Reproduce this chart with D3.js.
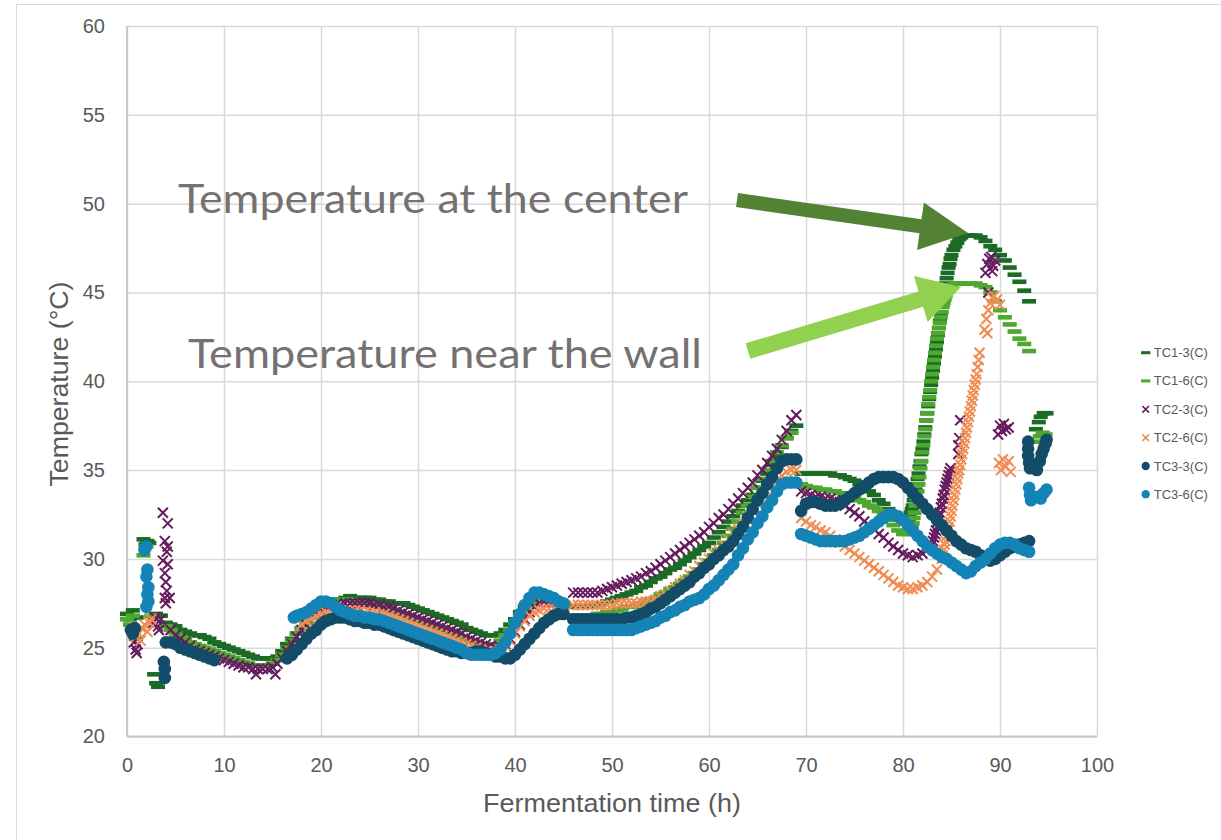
<!DOCTYPE html>
<html><head><meta charset="utf-8">
<script src="https://cdn.jsdelivr.net/npm/d3@7"></script>
<style>body{margin:0;background:#fff}svg{display:block}</style>
</head><body>
<svg id="c" width="1221" height="840"></svg>
<script>
const xTicks=[0,10,20,30,40,50,60,70,80,90,100];
const yTicks=[20,25,30,35,40,45,50,55,60];
const seriesNames=["TC1-3(C)","TC1-6(C)","TC2-3(C)","TC2-6(C)","TC3-3(C)","TC3-6(C)"];
const seriesColors=["#1b6b26","#4ea72e","#651b5e","#ef8d55","#134c68","#1483b5"];
const seriesMarkers=["dash","dash","cross","cross","circle","circle"];
const xTitle="Fermentation time (h)";
const yTitle="Temperature (°C)";
const noteCenter="Temperature at the center";
const noteWall="Temperature near the wall";

const tc13=[[0,26.9],[0.3,26.6],[0.6,27.1],[1.0,26.7],[1.7,31.1],[1.9,30.8],[2.1,31.0],[2.3,30.9],[2.8,23.5],[3.0,23.0],[3.2,22.8],[3.0,26.9],[3.5,26.8],
[4.0,26.4],[4.5,26.3],[5.0,26.2],[5.5,26.0],[6.0,25.9],[6.5,25.8],[7.0,25.7],[7.5,25.7],[8.0,25.6],[8.5,25.5],[9.0,25.3],[9.5,25.2],[10.0,25.1],[10.5,25.0],[11.0,24.9],[11.5,24.8],[12.0,24.7],[12.5,24.6],[13.0,24.5],[13.5,24.4],[14.0,24.4],[14.5,24.4],[15.0,24.4],[15.5,24.5],[16.0,24.8],[16.5,25.2],[17.0,25.5],[17.5,25.8],[18.0,26.1],[18.5,26.4],[19.0,26.8],[19.5,27.1],[20.0,27.4],[20.5,27.6],[21.0,27.7],[21.5,27.7],[22.0,27.7],[22.5,27.8],[23.0,27.9],[23.5,27.8],[24.0,27.8],[24.5,27.8],[25.0,27.8],[25.5,27.7],[26.0,27.7],[26.5,27.6],[27.0,27.6],[27.5,27.5],[28.0,27.5],[28.5,27.5],[29.0,27.4],[29.5,27.3],[30.0,27.2],[30.5,27.1],[31.0,27.0],[31.5,26.9],[32.0,26.8],[32.5,26.7],[33.0,26.6],[33.5,26.5],[34.0,26.4],[34.5,26.3],[35.0,26.1],[35.5,26.0],[36.0,25.9],[36.5,25.8],[37.0,25.7],[37.5,25.7],[38.0,25.7],[38.5,25.8],[39.0,26.0],[39.5,26.3],[40.0,26.6],[40.5,27.0],[41.0,27.3],[41.5,27.6],[42.0,27.9],[42.5,28.1],[43.0,28.1],[43.5,28.0],[44.0,27.8],[44.5,27.6],[45.0,27.5],
[46.0,27.3],[46.5,27.3],[47.0,27.3],[47.5,27.3],[48.0,27.4],[48.5,27.4],[49.0,27.5],[49.5,27.6],[50.0,27.7],[50.5,27.8],[51.0,27.9],[51.5,28.0],[52.0,28.1],[52.5,28.2],[53.0,28.4],[53.5,28.5],[54.0,28.7],[54.5,28.9],[55.0,29.0],[55.5,29.2],[56.0,29.4],[56.5,29.5],[57.0,29.7],[57.5,29.9],[58.0,30.1],[58.5,30.3],[59.0,30.5],[59.5,30.7],[60.0,30.9],[60.5,31.2],[61.0,31.5],[61.5,31.8],[62.0,32.1],[62.5,32.4],[63.0,32.7],[63.5,33.0],[64.0,33.3],[64.5,33.6],[65.0,34.0],[65.5,34.4],[66.0,34.8],[66.5,35.3],[67.0,35.8],[67.5,36.3],[68.0,36.8],[68.5,37.2],[69.0,37.5],
[69.5,34.8],[70.0,34.8],[70.5,34.8],[71.0,34.8],[71.5,34.8],[72.0,34.8],[72.5,34.8],[73.0,34.7],[73.5,34.7],[74.0,34.6],[74.5,34.5],[75.0,34.4],[75.5,34.2],[76.0,34.0],[76.5,33.8],[77.0,33.6],[77.5,33.3],[78.0,33.1],[78.5,32.8],[79.0,32.5],[79.5,32.2],[80.0,32.0],
[80.5,32.1],[80.6,32.2],[80.7,32.4],[80.8,32.6],[80.9,32.8],[81.0,33.0],[81.1,33.3],[81.2,33.6],[81.3,33.9],[81.4,34.2],[81.5,34.5],[81.6,34.8],[81.7,35.2],[81.8,35.5],[81.9,35.9],[82.0,36.2],[82.1,36.6],[82.2,37.0],[82.3,37.4],[82.4,37.8],[82.5,38.2],[82.6,38.6],[82.7,39.0],[82.8,39.4],[82.9,39.8],[83.0,40.2],[83.1,40.6],[83.2,41.0],[83.3,41.4],[83.4,41.8],[83.5,42.2],[83.6,42.6],[83.7,43.0],[83.8,43.4],[83.9,43.8],[84.0,44.2],[84.1,44.5],[84.2,44.9],[84.3,45.2],[84.4,45.5],[84.5,45.8],[84.6,46.1],[84.7,46.4],[84.8,46.6],[84.9,46.9],[85.0,47.1],[85.2,47.4],[85.4,47.6],[85.6,47.8],[85.8,48.0],[86.0,48.1],
[86.5,48.2],[87.0,48.2],[87.5,48.2],[88.0,48.1],[88.5,47.9],[89.0,47.6],[89.5,47.4],[90.0,47.1],[90.5,46.8],[91.0,46.4],[91.5,46.0],[92.0,45.6],[92.5,45.1],[93.0,44.5],
[93.7,37.3],[94.0,37.7],[94.2,38.0],[94.5,38.2],[94.8,38.2]];

const tc16=[[0,26.6],[0.3,26.3],[0.6,26.8],[0.9,25.5],[1.7,30.2],[2.0,30.7],[2.5,26.8],
[4.0,26.2],[4.5,26.0],[5.0,25.8],[5.5,25.6],[6.0,25.5],[6.5,25.3],[7.0,25.2],[7.5,25.1],[8.0,25.0],[8.5,24.9],[9.0,24.8],[9.5,24.7],[10.0,24.6],[10.5,24.5],[11.0,24.4],[11.5,24.3],[12.0,24.2],[12.5,24.1],[13.0,24.0],[13.5,24.0],[14.0,24.0],[14.5,24.0],[15.0,24.1],[15.5,24.3],[16.0,24.6],[16.5,25.0],[17.0,25.4],[17.5,25.8],[18.0,26.1],[18.5,26.4],[19.0,26.7],[19.5,27.0],[20.0,27.3],[20.5,27.5],[21.0,27.6],[21.5,27.7],[22.0,27.7],[22.5,27.7],[23.0,27.7],[23.5,27.6],[24.0,27.6],[24.5,27.5],[25.0,27.5],[25.5,27.4],[26.0,27.3],[26.5,27.3],[27.0,27.2],[27.5,27.1],[28.0,27.0],[28.5,26.9],[29.0,26.8],[29.5,26.7],[30.0,26.6],[30.5,26.5],[31.0,26.4],[31.5,26.3],[32.0,26.2],[32.5,26.1],[33.0,26.0],[33.5,25.9],[34.0,25.8],[34.5,25.6],[35.0,25.5],[35.5,25.4],[36.0,25.3],[36.5,25.2],[37.0,25.1],[37.5,25.1],[38.0,25.2],[38.5,25.4],[39.0,25.7],[39.5,26.0],[40.0,26.4],[40.5,26.8],[41.0,27.1],[41.5,27.4],[42.0,27.6],[42.5,27.8],[43.0,27.8],[43.5,27.8],[44.0,27.6],[44.5,27.5],[45.0,27.4],
[46.0,26.8],[46.5,26.8],[47.0,26.8],[47.5,26.8],[48.0,26.8],[48.5,26.9],[49.0,26.9],[49.5,27.0],[50.0,27.0],[50.5,27.1],[51.0,27.2],[51.5,27.3],[52.0,27.3],[52.5,27.4],[53.0,27.5],[53.5,27.6],[54.0,27.7],[54.5,27.8],[55.0,28.0],[55.5,28.1],[56.0,28.3],[56.5,28.4],[57.0,28.6],[57.5,28.8],[58.0,29.0],[58.5,29.2],[59.0,29.4],[59.5,29.7],[60.0,29.9],[60.5,30.2],[61.0,30.5],[61.5,30.9],[62.0,31.3],[62.5,31.7],[63.0,32.1],[63.5,32.6],[64.0,33.0],[64.5,33.5],[65.0,34.0],[65.5,34.5],[66.0,35.0],[66.5,35.5],[67.0,36.0],[67.5,36.4],[68.0,36.8],[68.5,37.1],
[69.5,34.2],[70.0,34.1],[70.5,34.0],[71.0,34.0],[71.5,33.9],[72.0,33.9],[72.5,33.8],[73.0,33.8],[73.5,33.7],[74.0,33.6],[74.5,33.5],[75.0,33.4],[75.5,33.3],[76.0,33.2],[76.5,33.0],[77.0,32.9],[77.5,32.7],[78.0,32.5],[78.5,32.2],[79.0,31.9],[79.5,31.6],[80.0,31.4],[80.5,31.4],
[80.8,31.6],[80.9,31.8],[81.0,32.0],[81.1,32.3],[81.2,32.6],[81.3,33.0],[81.4,33.4],[81.5,33.8],[81.6,34.2],[81.7,34.6],[81.8,35.1],[81.9,35.5],[82.0,36.0],[82.1,36.4],[82.2,36.9],[82.3,37.3],[82.4,37.8],[82.5,38.2],[82.6,38.7],[82.7,39.1],[82.8,39.5],[82.9,40.0],[83.0,40.4],[83.1,40.8],[83.2,41.2],[83.3,41.6],[83.4,42.0],[83.5,42.4],[83.6,42.7],[83.7,43.0],[83.8,43.3],[83.9,43.6],[84.0,43.9],[84.1,44.2],[84.2,44.4],[84.3,44.6],[84.4,44.8],[84.6,45.1],[84.8,45.3],[85.0,45.4],
[85.3,45.5],[85.6,45.5],[86.0,45.5],[86.5,45.5],[87.0,45.5],[87.5,45.5],[88.0,45.4],[88.5,45.3],[89.0,45.0],[89.5,44.5],[90.0,44.0],[90.5,43.6],[91.0,43.2],[91.5,42.8],[92.0,42.4],[92.5,42.1],[93.0,41.7],
[93.8,36.6],[94.1,36.9],[94.4,37.1],[94.7,37.0]];

const tc23=[[0.7,25.3],[0.9,24.9],[1.1,25.2],[1.0,24.7],[2.7,26.4],[2.9,26.7],[3.2,26.2],[3.5,26.6],[3.3,26.0],
[3.7,32.6],[4.2,32.0],[3.9,31.0],[4.2,30.7],[4.1,30.4],[3.7,29.9],[4.2,29.7],[3.9,29.2],[4.0,28.7],[4.1,28.2],[3.9,27.8],[4.4,27.8],[4.0,27.5],
[4.5,26.0],[5.0,25.7],[5.5,25.5],[6.0,25.3],[6.5,25.1],[7.0,24.9],[7.5,24.8],[8.0,24.7],[8.5,24.6],[9.0,24.5],[9.5,24.4],[10.0,24.3],[10.5,24.2],[11.0,24.1],[11.5,24.0],[12.0,23.9],[12.5,23.9],[13.0,23.8],[13.3,23.5],[13.5,23.8],[14.0,23.8],[14.5,23.8],[15.0,23.9],[15.3,23.5],[15.5,24.1],[16.0,24.4],[16.5,24.8],[17.0,25.2],[17.5,25.6],[18.0,26.0],[18.5,26.3],[19.0,26.6],[19.5,26.9],[20.0,27.1],[20.5,27.3],[21.0,27.4],[21.5,27.4],[22.0,27.4],[22.5,27.5],[23.0,27.5],[23.5,27.5],[24.0,27.5],[24.5,27.5],[25.0,27.5],[25.5,27.4],[26.0,27.4],[26.5,27.3],[27.0,27.3],[27.5,27.2],[28.0,27.1],[28.5,27.0],[29.0,26.9],[29.5,26.8],[30.0,26.7],[30.5,26.6],[31.0,26.5],[31.5,26.4],[32.0,26.3],[32.5,26.2],[33.0,26.1],[33.5,26.0],[34.0,25.9],[34.5,25.8],[35.0,25.6],[35.5,25.5],[36.0,25.4],[36.5,25.3],[37.0,25.2],[37.5,25.1],[38.0,25.0],[38.5,25.0],[39.0,25.2],[39.5,25.5],[40.0,25.9],[40.5,26.3],[41.0,26.6],[41.5,27.0],[42.0,27.3],[42.5,27.5],[43.0,27.6],[43.5,27.6],[44.0,27.5],[44.5,27.4],[45.0,27.3],
[46.0,28.1],[46.5,28.1],[47.0,28.1],[47.5,28.1],[48.0,28.1],[48.5,28.1],[49.0,28.2],[49.5,28.3],[50.0,28.4],[50.5,28.5],[51.0,28.6],[51.5,28.7],[52.0,28.8],[52.5,28.9],[53.0,29.0],[53.5,29.2],[54.0,29.3],[54.5,29.5],[55.0,29.7],[55.5,29.9],[56.0,30.1],[56.5,30.3],[57.0,30.5],[57.5,30.7],[58.0,30.9],[58.5,31.1],[59.0,31.3],[59.5,31.5],[60.0,31.8],[60.5,32.0],[61.0,32.3],[61.5,32.5],[62.0,32.8],[62.5,33.1],[63.0,33.4],[63.5,33.7],[64.0,34.0],[64.5,34.3],[65.0,34.7],[65.5,35.0],[66.0,35.4],[66.5,35.8],[67.0,36.2],[67.5,36.7],[68.0,37.2],[68.5,37.8],[69.0,38.1],
[69.5,33.8],[70.0,33.7],[70.5,33.6],[71.0,33.5],[71.5,33.5],[72.0,33.4],[72.5,33.4],[73.0,33.3],[73.5,33.2],[74.0,33.0],[74.5,32.8],[75.0,32.6],[75.5,32.4],[76.0,32.1],[76.5,31.9],[77.0,31.7],[77.5,31.4],[78.0,31.2],[78.5,30.9],[79.0,30.7],[79.5,30.5],[80.0,30.3],[80.5,30.2],[81.0,30.1],[81.5,30.2],[82.0,30.3],[82.5,30.5],[83.0,30.8],
[83.1,31.0],[83.2,31.2],[83.3,31.4],[83.4,31.6],[83.5,31.8],[83.6,32.1],[83.7,32.4],[83.8,32.6],[83.9,32.9],[84.0,33.1],[84.1,33.4],[84.2,33.6],[84.3,33.9],[84.4,34.1],[84.5,34.3],[84.6,34.5],[84.7,34.7],[84.8,34.9],[84.9,35.1],
[85.7,35.9],[85.7,36.4],[85.8,36.8],[85.9,37.8],
[88.5,46.1],[88.7,46.6],[88.9,46.9],[89.1,47.0],[89.3,46.5],[89.5,46.8],[89.2,46.2],[88.8,45.0],
[89.8,37.0],[90.0,37.5],[90.2,37.2],[90.4,37.6],[90.6,37.3],[90.9,37.4]];

const tc26=[[0.9,25.6],[1.2,25.8],[1.4,25.4],[1.5,26.1],[1.8,26.3],[2.1,25.9],[2.3,26.4],[2.5,26.6],
[18.0,26.3],[18.5,26.5],[19.0,26.6],[19.5,26.8],[20.0,26.9],[20.5,27.0],[21.0,27.1],[21.5,27.1],[22.0,27.1],[22.5,27.1],[23.0,27.1],[23.5,27.1],[24.0,27.1],[24.5,27.0],[25.0,27.0],[25.5,27.0],[26.0,26.9],[26.5,26.9],[27.0,26.8],[27.5,26.7],[28.0,26.6],[28.5,26.5],[29.0,26.4],[29.5,26.3],[30.0,26.2],[30.5,26.1],[31.0,26.0],[31.5,25.9],[32.0,25.8],[32.5,25.7],[33.0,25.6],[33.5,25.5],[34.0,25.4],[34.5,25.3],[35.0,25.2],[35.5,25.1],[36.0,25.0],[36.5,24.9],[37.0,24.8],[37.5,24.8],[38.0,24.8],[38.5,24.9],[39.0,25.1],[39.5,25.4],[40.0,25.8],[40.5,26.2],[41.0,26.5],[41.5,26.8],[42.0,27.0],[42.5,27.1],[43.0,27.2],[43.5,27.2],[44.0,27.2],[44.5,27.2],[45.0,27.1],
[46.0,27.4],[46.5,27.4],[47.0,27.4],[47.5,27.4],[48.0,27.4],[48.5,27.4],[49.0,27.4],[49.5,27.4],[50.0,27.4],[50.5,27.5],[51.0,27.5],[51.5,27.5],[52.0,27.5],[52.5,27.5],[53.0,27.6],[53.5,27.6],[54.0,27.6],[54.5,27.7],[55.0,27.9],[55.5,28.0],[56.0,28.2],[56.5,28.4],[57.0,28.6],[57.5,28.8],[58.0,29.1],[58.5,29.3],[59.0,29.6],[59.5,29.8],[60.0,30.0],[60.5,30.3],[61.0,30.5],[61.5,30.8],[62.0,31.1],[62.5,31.4],[63.0,31.7],[63.5,32.0],[64.0,32.4],[64.5,32.7],[65.0,33.1],[65.5,33.4],[66.0,33.8],[66.5,34.1],[67.0,34.4],[67.5,34.7],[68.0,34.9],[68.5,35.0],[69.0,35.0],
[69.5,32.3],[70.0,32.1],[70.5,31.9],[71.0,31.8],[71.5,31.6],[72.0,31.5],[72.5,31.3],[73.0,31.1],[73.5,30.9],[74.0,30.7],[74.5,30.5],[75.0,30.3],[75.5,30.1],[76.0,29.9],[76.5,29.7],[77.0,29.5],[77.5,29.3],[78.0,29.1],[78.5,28.9],[79.0,28.7],[79.5,28.5],[80.0,28.4],[80.5,28.3],[81.0,28.3],[81.5,28.4],[82.0,28.5],[82.5,28.7],[83.0,29.0],[83.5,29.4],
[84.0,30.0],[84.1,30.2],[84.2,30.5],[84.3,30.8],[84.4,31.0],[84.5,31.3],[84.6,31.6],[84.7,31.8],[84.8,32.1],[84.9,32.4],[85.0,32.7],[85.1,33.0],[85.2,33.3],[85.3,33.6],[85.4,33.9],[85.5,34.2],[85.6,34.5],[85.7,34.8],[85.8,35.0],[85.9,35.3],[86.0,35.6],[86.1,35.9],[86.2,36.2],[86.3,36.5],[86.4,36.8],[86.5,37.1],[86.6,37.4],[86.7,37.7],[86.8,38.0],[86.9,38.3],[87.0,38.6],[87.1,38.9],[87.2,39.2],[87.3,39.5],[87.4,39.8],[87.5,40.1],[87.6,40.4],[87.7,40.8],[87.8,41.2],[87.9,41.6],
[88.4,42.9],[88.6,43.5],[88.8,44.0],[89.0,44.4],[89.2,44.7],[89.4,44.8],[89.7,44.6],[90.0,44.3],[88.7,42.7],
[89.9,35.4],[90.1,35.0],[90.3,35.6],[90.6,35.2],[90.9,35.5],[91.1,34.9]];

const tc33=[[0.4,26.0],[0.6,25.8],[0.8,26.1],[3.8,24.2],[3.9,23.8],[3.9,23.3],
[4.0,25.3],[4.5,25.3],[5.0,25.2],[5.5,25.0],[6.0,24.9],[6.5,24.8],[7.0,24.7],[7.5,24.6],[8.0,24.5],[8.5,24.4],[9.0,24.3],
[16.5,24.4],[17.0,24.6],[17.5,24.9],[18.0,25.2],[18.5,25.5],[19.0,25.8],[19.5,26.0],[20.0,26.3],[20.5,26.5],[21.0,26.6],[21.5,26.7],[22.0,26.7],[22.5,26.7],[23.0,26.6],[23.5,26.5],[24.0,26.5],[24.5,26.4],[25.0,26.4],[25.5,26.3],[26.0,26.3],[26.5,26.2],[27.0,26.1],[27.5,26.0],[28.0,25.9],[28.5,25.8],[29.0,25.7],[29.5,25.6],[30.0,25.5],[30.5,25.4],[31.0,25.3],[31.5,25.2],[32.0,25.1],[32.5,25.0],[33.0,24.9],[33.5,24.8],[34.0,24.8],[34.5,24.7],[35.0,24.7],[35.5,24.7],[36.0,24.8],[36.5,24.8],[37.0,24.7],[37.5,24.6],[38.0,24.5],[38.5,24.5],[39.0,24.4],[39.5,24.4],[40.0,24.6],[40.5,24.9],[41.0,25.2],[41.5,25.5],[42.0,25.8],[42.5,26.1],[43.0,26.4],[43.5,26.6],[44.0,26.8],[44.5,26.9],[45.0,26.9],
[46.0,26.6],[46.5,26.6],[47.0,26.6],[47.5,26.6],[48.0,26.6],[48.5,26.6],[49.0,26.6],[49.5,26.6],[50.0,26.6],[50.5,26.6],[51.0,26.6],[51.5,26.7],[52.0,26.7],[52.5,26.8],[53.0,26.9],[53.5,27.0],[54.0,27.2],[54.5,27.3],[55.0,27.5],[55.5,27.7],[56.0,27.9],[56.5,28.1],[57.0,28.3],[57.5,28.5],[58.0,28.7],[58.5,29.0],[59.0,29.2],[59.5,29.5],[60.0,29.7],[60.5,30.0],[61.0,30.2],[61.5,30.5],[62.0,30.7],[62.5,31.0],[63.0,31.4],[63.5,31.8],[64.0,32.3],[64.5,32.8],[65.0,33.3],[65.5,33.7],[66.0,34.2],[66.5,34.6],[67.0,35.1],[67.5,35.5],[68.0,35.6],[68.5,35.6],[69.0,35.6],
[69.5,32.7],[70.0,33.1],[70.5,33.2],[71.0,33.2],[71.5,33.1],[72.0,33.0],[72.5,33.0],[73.0,33.0],[73.5,33.1],[74.0,33.3],[74.5,33.5],[75.0,33.7],[75.5,33.9],[76.0,34.1],[76.5,34.3],[77.0,34.5],[77.5,34.6],[78.0,34.6],[78.5,34.6],[79.0,34.6],[79.5,34.5],[80.0,34.3],[80.5,34.0],[81.0,33.7],[81.5,33.4],[82.0,33.1],[82.5,32.8],[83.0,32.5],[83.5,32.2],[84.0,31.9],[84.5,31.6],[85.0,31.3],[85.5,31.0],[86.0,30.8],[86.5,30.6],[87.0,30.5],[87.5,30.4],[88.0,30.2],[88.5,30.0],[89.0,29.9],[89.5,30.0],[90.0,30.2],[90.5,30.4],[91.0,30.6],[91.5,30.7],[92.0,30.8],[92.5,30.9],[93.0,31.0],
[92.9,36.6],[92.9,36.2],[92.9,35.8],[93.0,35.4],[93.1,35.1],[93.8,35.0],[94.1,35.5],[94.3,35.9],[94.5,36.2],[94.7,36.5],[94.8,36.7]];

const tc36=[[1.8,30.5],[2.0,30.7],[2.1,29.4],[2.0,29.0],[2.2,28.4],[2.1,28.0],[2.2,27.6],[2.0,27.3],
[17.2,26.7],[17.5,26.8],[18.0,26.9],[18.5,27.0],[19.0,27.2],[19.5,27.4],[20.0,27.6],[20.5,27.6],[21.0,27.5],[21.5,27.3],[22.0,27.1],[22.5,27.0],[23.0,26.9],[23.5,26.8],[24.0,26.8],[24.5,26.7],[25.0,26.7],[25.5,26.6],[26.0,26.6],[26.5,26.5],[27.0,26.4],[27.5,26.3],[28.0,26.2],[28.5,26.1],[29.0,26.0],[29.5,25.9],[30.0,25.8],[30.5,25.7],[31.0,25.6],[31.5,25.5],[32.0,25.4],[32.5,25.3],[33.0,25.2],[33.5,25.1],[34.0,25.0],[34.5,24.9],[35.0,24.7],[35.5,24.6],[36.0,24.6],[36.5,24.6],[37.0,24.6],[37.5,24.6],[38.0,24.7],[38.5,24.9],[39.0,25.3],[39.5,25.8],[40.0,26.4],[40.5,26.9],[41.0,27.4],[41.5,27.8],[42.0,28.1],[42.5,28.1],[43.0,28.0],[43.5,27.9],[44.0,27.8],[44.5,27.6],[45.0,27.5],
[46.0,26.0],[46.5,26.0],[47.0,26.0],[47.5,26.0],[48.0,26.0],[48.5,26.0],[49.0,26.0],[49.5,26.0],[50.0,26.0],[50.5,26.0],[51.0,26.0],[51.5,26.0],[52.0,26.0],[52.5,26.1],[53.0,26.2],[53.5,26.3],[54.0,26.4],[54.5,26.5],[55.0,26.7],[55.5,26.8],[56.0,27.0],[56.5,27.1],[57.0,27.3],[57.5,27.4],[58.0,27.6],[58.5,27.7],[59.0,27.8],[59.5,28.0],[60.0,28.3],[60.5,28.5],[61.0,28.8],[61.5,29.1],[62.0,29.4],[62.5,29.7],[63.0,30.2],[63.5,30.6],[64.0,31.1],[64.5,31.5],[65.0,32.0],[65.5,32.4],[66.0,32.9],[66.5,33.3],[67.0,33.8],[67.5,34.2],[68.0,34.3],[68.5,34.3],[69.0,34.3],
[69.5,31.4],[70.0,31.3],[70.5,31.2],[71.0,31.1],[71.5,31.0],[72.0,31.0],[72.5,31.0],[73.0,31.0],[73.5,31.0],[74.0,31.0],[74.5,31.1],[75.0,31.2],[75.5,31.3],[76.0,31.5],[76.5,31.7],[77.0,31.9],[77.5,32.1],[78.0,32.3],[78.5,32.5],[79.0,32.5],[79.5,32.4],[80.0,32.2],[80.5,31.9],[81.0,31.6],[81.5,31.3],[82.0,31.0],[82.5,30.7],[83.0,30.5],[83.5,30.3],[84.0,30.1],[84.5,30.0],[85.0,29.8],[85.5,29.6],[86.0,29.4],[86.5,29.2],[87.0,29.3],[87.5,29.6],[88.0,29.8],[88.5,30.0],[89.0,30.3],[89.5,30.6],[90.0,30.8],[90.5,30.9],[91.0,30.9],[91.5,30.8],[92.0,30.6],[92.5,30.5],[93.0,30.4],
[93.0,34.0],[93.1,33.6],[93.2,33.3],[93.9,33.5],[94.2,33.4],[94.5,33.7],[94.8,33.9]];

const allSeries=[tc13,tc16,tc23,tc26,tc33,tc36];

const svg=d3.select("#c");
const x=d3.scaleLinear().domain([0,100]).range([127,1097]);
const y=d3.scaleLinear().domain([20,60]).range([736.5,26]);

svg.append("rect").attr("x",16.5).attr("y",4.5).attr("width",1400).attr("height",1000)
  .attr("fill","none").attr("stroke","#d9d9d9").attr("stroke-width",1);

const gx=svg.append("g").attr("transform","translate(0,736.5)")
  .call(d3.axisBottom(x).tickValues(xTicks).tickSize(-(736.5-26)).tickPadding(21).tickFormat(d3.format("d")));
const gy=svg.append("g").attr("transform","translate(127,0)")
  .call(d3.axisLeft(y).tickValues(yTicks).tickSize(-(1097-127)).tickPadding(22).tickFormat(d3.format("d")));
[gx,gy].forEach(g=>{
  g.select(".domain").remove();
  g.selectAll(".tick line").attr("stroke","#d9d9d9").attr("stroke-width",1.5);
  g.selectAll(".tick text").attr("fill","#595959").style("font-family","'Liberation Sans',Arial,sans-serif").style("font-size","20px");
});
svg.append("line").attr("x1",127).attr("x2",127).attr("y1",26).attr("y2",736.5).attr("stroke","#c8c8c8").attr("stroke-width",2);
svg.append("line").attr("x1",127).attr("x2",1097).attr("y1",736.5).attr("y2",736.5).attr("stroke","#c8c8c8").attr("stroke-width",2);

function drawMarker(sel,type,color,scale){
  const s=scale||1;
  if(type==="dash"){
    sel.append("rect").attr("x",-7*s).attr("y",-2.3*s).attr("width",14*s).attr("height",4.6*s).attr("fill",color);
  } else if(type==="cross"){
    const a=5*s;
    sel.append("path").attr("d",`M${-a},${-a}L${a},${a}M${-a},${a}L${a},${-a}`).attr("stroke",color).attr("stroke-width",2*Math.max(s,0.8)).attr("fill","none");
  } else {
    sel.append("circle").attr("r",6.3*s).attr("fill",color);
  }
}
const plot=svg.append("g");
allSeries.forEach((data,i)=>{
  const g=plot.append("g");
  g.selectAll("g").data(data).enter().append("g")
    .attr("transform",d=>`translate(${x(d[0])},${y(d[1])})`)
    .each(function(){drawMarker(d3.select(this),seriesMarkers[i],seriesColors[i],1);});
});

function arrow(x1,y1,x2,y2,hw,headLen,headHw,color){
  const dx=x2-x1,dy=y2-y1,L=Math.hypot(dx,dy),ux=dx/L,uy=dy/L,nx=-uy,ny=ux;
  const bx=x2-headLen*ux,by=y2-headLen*uy;
  const pts=[[x1+hw*nx,y1+hw*ny],[bx+hw*nx,by+hw*ny],[bx+headHw*nx,by+headHw*ny],[x2,y2],
    [bx-headHw*nx,by-headHw*ny],[bx-hw*nx,by-hw*ny],[x1-hw*nx,y1-hw*ny]];
  svg.append("path").attr("d","M"+pts.map(p=>p.join(",")).join("L")+"Z").attr("fill",color);
}
arrow(737,200,968,233,7,48,24,"#548235");
arrow(748,351,961,287,8,42,24,"#92d050");

svg.append("text").attr("x",178).attr("y",213).text(noteCenter)
  .attr("fill","#767171").style("font-family","Lato,'Open Sans',sans-serif").style("font-size","41px")
  .attr("textLength",510).attr("lengthAdjust","spacingAndGlyphs");
svg.append("text").attr("x",188).attr("y",368).text(noteWall)
  .attr("fill","#767171").style("font-family","Lato,'Open Sans',sans-serif").style("font-size","41px")
  .attr("textLength",514).attr("lengthAdjust","spacingAndGlyphs");

svg.append("text").attr("x",612).attr("y",812).attr("text-anchor","middle").text(xTitle)
  .attr("fill","#595959").style("font-family","'Liberation Sans',Arial,sans-serif").style("font-size","26px")
  .attr("textLength",258).attr("lengthAdjust","spacingAndGlyphs");
svg.append("text").attr("transform","translate(68,384) rotate(-90)").attr("text-anchor","middle").text(yTitle)
  .attr("fill","#595959").style("font-family","'Liberation Sans',Arial,sans-serif").style("font-size","26px")
  .attr("textLength",205).attr("lengthAdjust","spacingAndGlyphs");

const legendY=[352.7,380.9,409.3,437.7,466,494.2];
const lg=svg.append("g");
seriesNames.forEach((name,i)=>{
  const g=lg.append("g").attr("transform",`translate(1145.7,${legendY[i]})`);
  drawMarker(g,seriesMarkers[i],seriesColors[i],0.66);
  g.append("text").attr("x",8).attr("y",0).attr("dy","0.35em").text(name)
    .attr("fill","#595959").style("font-family","'Liberation Sans',Arial,sans-serif").style("font-size","13px");
});
</script>
</body></html>
